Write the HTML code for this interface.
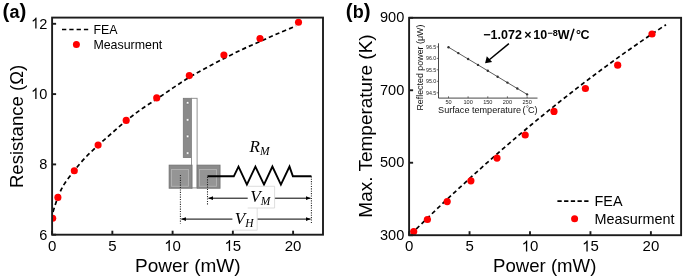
<!DOCTYPE html>
<html><head><meta charset="utf-8"><style>
html,body{margin:0;padding:0;background:#fff;width:685px;height:280px;overflow:hidden}
svg{display:block;will-change:transform}
</style></head><body>
<svg width="685" height="280" viewBox="0 0 685 280">
<defs>
<clipPath id="ca"><rect x="52.1" y="17.6" width="270.9" height="217.1"/></clipPath>
<clipPath id="cb"><rect x="409.1" y="17.8" width="272" height="217.4"/></clipPath>
<marker id="ah" viewBox="0 0 10 10" refX="9.5" refY="5" markerWidth="4.8" markerHeight="4.8" orient="auto-start-reverse"><path d="M0,1 L10,5 L0,9 z" fill="#000"/></marker>
<marker id="ah2" viewBox="0 0 10 10" refX="9" refY="5" markerWidth="7" markerHeight="7" orient="auto"><path d="M0,0 L10,5 L0,10 z" fill="#000"/></marker>
</defs>
<style>.tk{font-family:"Liberation Sans",sans-serif;font-size:15px;fill:#000}.lab{font-family:"Liberation Sans",sans-serif;font-size:19px;fill:#000}.lg{font-family:"Liberation Sans",sans-serif;font-size:12px;fill:#000}.pl{font-family:"Liberation Sans",sans-serif;font-size:18px;font-weight:bold;fill:#000}.it{font-family:"Liberation Serif",serif;font-style:italic;fill:#000}</style>
<path d="M53,212 C53.42,210.67 54.67,206.50 55.5,204 C56.33,201.50 57.08,199.33 58,197 C58.92,194.67 59.83,192.33 61,190 C62.17,187.67 62.83,186.17 65,183 C67.17,179.83 70.67,175.17 74,171 C77.33,166.83 81.00,162.25 85,158 C89.00,153.75 93.50,149.67 98,145.5 C102.50,141.33 107.33,137.08 112,133 C116.67,128.92 121.17,124.93 126,121 C130.83,117.07 135.83,113.08 141,109.4 C146.17,105.72 151.67,102.48 157,98.9 C162.33,95.32 167.67,91.47 173,87.9 C178.33,84.33 183.50,80.82 189,77.5 C194.50,74.18 200.17,71.17 206,68 C211.83,64.83 218.00,61.58 224,58.5 C230.00,55.42 236.00,52.33 242,49.5 C248.00,46.67 254.00,44.17 260,41.5 C266.00,38.83 272.00,36.08 278,33.5 C284.00,30.92 293.00,27.25 296,26" fill="none" stroke="#000" stroke-width="1.7" stroke-dasharray="4.3 3"/>
<g clip-path="url(#ca)">
<circle cx="52.7" cy="218.29999999999998" r="3.55" fill="#f00"/>
<circle cx="57.9" cy="197.39999999999998" r="3.55" fill="#f00"/>
<circle cx="74.3" cy="170.7" r="3.55" fill="#f00"/>
<circle cx="98.1" cy="145.1" r="3.55" fill="#f00"/>
<circle cx="126.2" cy="120.4" r="3.55" fill="#f00"/>
<circle cx="156.7" cy="97.9" r="3.55" fill="#f00"/>
<circle cx="189.3" cy="75.60000000000001" r="3.55" fill="#f00"/>
<circle cx="223.9" cy="55.0" r="3.55" fill="#f00"/>
<circle cx="260" cy="38.5" r="3.55" fill="#f00"/>
<circle cx="298.5" cy="22.2" r="3.55" fill="#f00"/>
</g>
<g>
<rect x="183.3" y="98.3" width="8.2" height="59.2" fill="#8a8a8a" stroke="#777" stroke-width="0.8"/>
<rect x="191.5" y="98.3" width="5.6" height="89.6" fill="#fff" stroke="#888" stroke-width="0.9"/>
<rect x="186.3" y="101.4" width="2.6" height="2.6" rx="0.6" fill="#fff" stroke="#666" stroke-width="0.6"/>
<rect x="186.3" y="118.6" width="2.6" height="2.6" rx="0.6" fill="#fff" stroke="#666" stroke-width="0.6"/>
<rect x="186.3" y="135.1" width="2.6" height="2.6" rx="0.6" fill="#fff" stroke="#666" stroke-width="0.6"/>
<rect x="186.3" y="151.8" width="2.6" height="2.6" rx="0.6" fill="#fff" stroke="#666" stroke-width="0.6"/>
<rect x="169.2" y="165.2" width="22.8" height="23" fill="#8b8b8b" stroke="#767676" stroke-width="1"/>
<rect x="171.5" y="169.5" width="17" height="16.8" fill="#959595" stroke="#b2b2b2" stroke-width="0.9"/>
<rect x="197.2" y="165.2" width="22.8" height="23" fill="#8b8b8b" stroke="#767676" stroke-width="1"/>
<rect x="199.5" y="169.5" width="17" height="16.8" fill="#959595" stroke="#b2b2b2" stroke-width="0.9"/>
</g>
<polyline points="207.5,176.3 233.8,176.3 238.5,166.6 246.9,184.6 255.4,166.6 264.0,184.6 272.4,166.6 280.9,184.6 289.5,166.6 292.9,176.3 311.4,176.3" fill="none" stroke="#000" stroke-width="1.9" stroke-linejoin="miter"/>
<line x1="180.4" y1="175" x2="180.4" y2="223.4" stroke="#222" stroke-width="1.05" stroke-dasharray="1.1 1.3"/>
<line x1="207.5" y1="176.9" x2="207.5" y2="205.5" stroke="#222" stroke-width="1.05" stroke-dasharray="1.1 1.3"/>
<line x1="311.4" y1="176.3" x2="311.4" y2="223.3" stroke="#222" stroke-width="1.05" stroke-dasharray="1.1 1.3"/>
<line x1="208.5" y1="198.2" x2="310.5" y2="198.2" stroke="#000" stroke-width="1" marker-start="url(#ah)" marker-end="url(#ah)"/>
<line x1="181.4" y1="219.1" x2="310.5" y2="219.1" stroke="#000" stroke-width="1" marker-start="url(#ah)" marker-end="url(#ah)"/>
<rect x="247.7" y="186.3" width="27" height="21.7" fill="#fff"/>
<rect x="232.4" y="208.0" width="24.8" height="22" fill="#fff"/>
<polyline points="247.7,186.3 274.6,186.3 274.6,208 247.7,208" fill="none" stroke="#d4d4d4" stroke-width="0.8"/>
<polyline points="257.2,208 257.2,230.2 232.4,230.2" fill="none" stroke="#d8d8d8" stroke-width="0.8"/>
<text x="249.5" y="151.8" class="it" style="font-size:17px">R<tspan style="font-size:11.5px" dy="3.3">M</tspan></text>
<text x="250.3" y="202.0" class="it" style="font-size:17px">V<tspan style="font-size:11.5px" dy="3">M</tspan></text>
<text x="234.8" y="224.0" class="it" style="font-size:17px">V<tspan style="font-size:11.5px" dy="3">H</tspan></text>
<rect x="52.1" y="17.6" width="270.9" height="217.1" fill="none" stroke="#1c1c1c" stroke-width="1.9"/>
<line x1="52.1" y1="234.7" x2="52.1" y2="230.7" stroke="#1c1c1c" stroke-width="1.9"/>
<text x="47.93" y="250.90" class="tk">0</text>
<line x1="112.35" y1="234.7" x2="112.35" y2="230.7" stroke="#1c1c1c" stroke-width="1.9"/>
<text x="108.18" y="250.90" class="tk">5</text>
<line x1="172.6" y1="234.7" x2="172.6" y2="230.7" stroke="#1c1c1c" stroke-width="1.9"/>
<path d="M763,0 L583,0 L583,1147 C540,1106 483,1064 413,1023 C342,982 279,951 223,930 L223,1104 C324,1151 412,1209 487,1276 C562,1343 615,1409 646,1472 L763,1472 Z" transform="translate(164.26,250.90) scale(0.00732,-0.00732)" fill="#000"/><text x="172.60" y="250.90" class="tk">0</text>
<line x1="232.85" y1="234.7" x2="232.85" y2="230.7" stroke="#1c1c1c" stroke-width="1.9"/>
<path d="M763,0 L583,0 L583,1147 C540,1106 483,1064 413,1023 C342,982 279,951 223,930 L223,1104 C324,1151 412,1209 487,1276 C562,1343 615,1409 646,1472 L763,1472 Z" transform="translate(224.51,250.90) scale(0.00732,-0.00732)" fill="#000"/><text x="232.85" y="250.90" class="tk">5</text>
<line x1="293.1" y1="234.7" x2="293.1" y2="230.7" stroke="#1c1c1c" stroke-width="1.9"/>
<text x="284.76" y="250.90" class="tk">2</text><text x="293.10" y="250.90" class="tk">0</text>
<line x1="52.1" y1="234.7" x2="56.1" y2="234.7" stroke="#1c1c1c" stroke-width="1.9"/>
<g transform="translate(47.3,239.50) scale(0.97,1.03)"><text x="-8.34" y="0.00" class="tk">6</text></g>
<line x1="52.1" y1="164.39999999999998" x2="56.1" y2="164.39999999999998" stroke="#1c1c1c" stroke-width="1.9"/>
<g transform="translate(47.3,169.20) scale(0.97,1.03)"><text x="-8.34" y="0.00" class="tk">8</text></g>
<line x1="52.1" y1="94.1" x2="56.1" y2="94.1" stroke="#1c1c1c" stroke-width="1.9"/>
<g transform="translate(47.3,98.90) scale(0.97,1.03)"><path d="M763,0 L583,0 L583,1147 C540,1106 483,1064 413,1023 C342,982 279,951 223,930 L223,1104 C324,1151 412,1209 487,1276 C562,1343 615,1409 646,1472 L763,1472 Z" transform="translate(-16.68,0.00) scale(0.00732,-0.00732)" fill="#000"/><text x="-8.34" y="0.00" class="tk">0</text></g>
<line x1="52.1" y1="23.80000000000001" x2="56.1" y2="23.80000000000001" stroke="#1c1c1c" stroke-width="1.9"/>
<g transform="translate(47.3,28.60) scale(0.97,1.03)"><path d="M763,0 L583,0 L583,1147 C540,1106 483,1064 413,1023 C342,982 279,951 223,930 L223,1104 C324,1151 412,1209 487,1276 C562,1343 615,1409 646,1472 L763,1472 Z" transform="translate(-16.68,0.00) scale(0.00732,-0.00732)" fill="#000"/><text x="-8.34" y="0.00" class="tk">2</text></g>
<line x1="62" y1="29.5" x2="89" y2="29.5" stroke="#000" stroke-width="1.6" stroke-dasharray="4.3 3"/>
<text x="93.4" y="34" class="lg" style="font-size:12.4px">FEA</text>
<circle cx="76.4" cy="44.5" r="3.5" fill="#f00"/>
<text x="93.4" y="48.7" class="lg" style="font-size:12.4px">Measurment</text>
<text x="2.6" y="17.6" class="pl"><tspan font-size="20.5" dy="0.6">(</tspan><tspan dy="-0.6">a</tspan><tspan font-size="20.5" dy="0.6">)</tspan></text>
<text transform="translate(22.6,126.4) rotate(-90)" text-anchor="middle" class="lab" style="font-size:18.6px">Resistance (Ω)</text>
<text x="187.8" y="272.2" text-anchor="middle" class="lab">Power (mW)</text>
<path d="M411,234.14 C413.50,231.69 421.00,224.31 426,219.47 C431.00,214.63 436.00,209.84 441,205.1 C446.00,200.36 451.00,195.67 456,191.02 C461.00,186.38 466.00,181.78 471,177.23 C476.00,172.68 481.00,168.18 486,163.73 C491.00,159.28 496.00,154.88 501,150.53 C506.00,146.18 511.00,141.87 516,137.62 C521.00,133.37 526.00,129.17 531,125.01 C536.00,120.86 541.00,116.75 546,112.69 C551.00,108.63 556.00,104.62 561,100.66 C566.00,96.70 571.00,92.79 576,88.93 C581.00,85.07 586.00,81.25 591,77.49 C596.00,73.72 601.00,70.01 606,66.34 C611.00,62.67 616.00,59.06 621,55.49 C626.00,51.92 631.00,48.40 636,44.93 C641.00,41.46 646.00,38.03 651,34.66 C656.00,31.29 663.50,26.35 666,24.69" fill="none" stroke="#000" stroke-width="1.7" stroke-dasharray="4.3 3"/>
<g clip-path="url(#cb)">
<circle cx="413.7" cy="231.60000000000002" r="3.6" fill="#f00"/>
<circle cx="427.4" cy="219.5" r="3.6" fill="#f00"/>
<circle cx="447.2" cy="201.60000000000002" r="3.6" fill="#f00"/>
<circle cx="470.9" cy="180.8" r="3.6" fill="#f00"/>
<circle cx="497" cy="158.10000000000002" r="3.6" fill="#f00"/>
<circle cx="525.2" cy="135.0" r="3.6" fill="#f00"/>
<circle cx="554" cy="111.39999999999999" r="3.6" fill="#f00"/>
<circle cx="585.4" cy="88.5" r="3.6" fill="#f00"/>
<circle cx="617.7" cy="65.2" r="3.6" fill="#f00"/>
<circle cx="652" cy="34.0" r="3.6" fill="#f00"/>
</g>
<rect x="409.1" y="17.8" width="272.0" height="217.39999999999998" fill="none" stroke="#1c1c1c" stroke-width="1.9"/>
<line x1="409.1" y1="235.2" x2="409.1" y2="231.2" stroke="#1c1c1c" stroke-width="1.9"/>
<text x="404.93" y="251.40" class="tk">0</text>
<line x1="469.55" y1="235.2" x2="469.55" y2="231.2" stroke="#1c1c1c" stroke-width="1.9"/>
<text x="465.38" y="251.40" class="tk">5</text>
<line x1="530.0" y1="235.2" x2="530.0" y2="231.2" stroke="#1c1c1c" stroke-width="1.9"/>
<path d="M763,0 L583,0 L583,1147 C540,1106 483,1064 413,1023 C342,982 279,951 223,930 L223,1104 C324,1151 412,1209 487,1276 C562,1343 615,1409 646,1472 L763,1472 Z" transform="translate(521.66,251.40) scale(0.00732,-0.00732)" fill="#000"/><text x="530.00" y="251.40" class="tk">0</text>
<line x1="590.45" y1="235.2" x2="590.45" y2="231.2" stroke="#1c1c1c" stroke-width="1.9"/>
<path d="M763,0 L583,0 L583,1147 C540,1106 483,1064 413,1023 C342,982 279,951 223,930 L223,1104 C324,1151 412,1209 487,1276 C562,1343 615,1409 646,1472 L763,1472 Z" transform="translate(582.11,251.40) scale(0.00732,-0.00732)" fill="#000"/><text x="590.45" y="251.40" class="tk">5</text>
<line x1="650.9000000000001" y1="235.2" x2="650.9000000000001" y2="231.2" stroke="#1c1c1c" stroke-width="1.9"/>
<text x="642.56" y="251.40" class="tk">2</text><text x="650.90" y="251.40" class="tk">0</text>
<line x1="409.1" y1="235.2" x2="413.1" y2="235.2" stroke="#1c1c1c" stroke-width="1.9"/>
<g transform="translate(404.3,239.60) scale(0.97,1.03)"><text x="-25.03" y="0.00" class="tk">3</text><text x="-16.68" y="0.00" class="tk">0</text><text x="-8.34" y="0.00" class="tk">0</text></g>
<line x1="409.1" y1="162.73333333333332" x2="413.1" y2="162.73333333333332" stroke="#1c1c1c" stroke-width="1.9"/>
<g transform="translate(404.3,167.13) scale(0.97,1.03)"><text x="-25.03" y="0.00" class="tk">5</text><text x="-16.68" y="0.00" class="tk">0</text><text x="-8.34" y="0.00" class="tk">0</text></g>
<line x1="409.1" y1="90.26666666666665" x2="413.1" y2="90.26666666666665" stroke="#1c1c1c" stroke-width="1.9"/>
<g transform="translate(404.3,94.67) scale(0.97,1.03)"><text x="-25.03" y="0.00" class="tk">7</text><text x="-16.68" y="0.00" class="tk">0</text><text x="-8.34" y="0.00" class="tk">0</text></g>
<line x1="409.1" y1="17.799999999999983" x2="413.1" y2="17.799999999999983" stroke="#1c1c1c" stroke-width="1.9"/>
<g transform="translate(404.3,22.20) scale(0.97,1.03)"><text x="-25.03" y="0.00" class="tk">9</text><text x="-16.68" y="0.00" class="tk">0</text><text x="-8.34" y="0.00" class="tk">0</text></g>
<line x1="557.4" y1="201.1" x2="589" y2="201.1" stroke="#000" stroke-width="1.6" stroke-dasharray="4.3 2.4"/>
<text x="594.5" y="206.4" class="lg" style="font-size:14.4px">FEA</text>
<circle cx="574.6" cy="218.7" r="3.5" fill="#f00"/>
<text x="594.5" y="223.7" class="lg" style="font-size:14.4px">Measurment</text>
<text x="345.8" y="17.6" class="pl"><tspan font-size="20.5" dy="0.6">(</tspan><tspan dy="-0.6">b</tspan><tspan font-size="20.5" dy="0.6">)</tspan></text>
<text transform="translate(372,126) rotate(-90)" text-anchor="middle" class="lab" style="font-size:19px">Max. Temperature (K)</text>
<text x="544.7" y="272.4" text-anchor="middle" class="lab" style="font-size:18.6px">Power (mW)</text>
<polyline points="438.5,43.3 438.5,98.1 537.5,98.1" fill="none" stroke="#333" stroke-width="0.9"/>
<line x1="448.5" y1="98.1" x2="448.5" y2="96.3" stroke="#333" stroke-width="0.7"/>
<text x="448.5" y="104.2" text-anchor="middle" font-family="Liberation Sans, sans-serif" font-size="5.6" fill="#222">50</text>
<line x1="468.1" y1="98.1" x2="468.1" y2="96.3" stroke="#333" stroke-width="0.7"/>
<text x="468.1" y="104.2" text-anchor="middle" font-family="Liberation Sans, sans-serif" font-size="5.6" fill="#222">100</text>
<line x1="487.8" y1="98.1" x2="487.8" y2="96.3" stroke="#333" stroke-width="0.7"/>
<text x="487.8" y="104.2" text-anchor="middle" font-family="Liberation Sans, sans-serif" font-size="5.6" fill="#222">150</text>
<line x1="507.4" y1="98.1" x2="507.4" y2="96.3" stroke="#333" stroke-width="0.7"/>
<text x="507.4" y="104.2" text-anchor="middle" font-family="Liberation Sans, sans-serif" font-size="5.6" fill="#222">200</text>
<line x1="527.1" y1="98.1" x2="527.1" y2="96.3" stroke="#333" stroke-width="0.7"/>
<text x="527.1" y="104.2" text-anchor="middle" font-family="Liberation Sans, sans-serif" font-size="5.6" fill="#222">250</text>
<line x1="438.5" y1="92.8" x2="436.7" y2="92.8" stroke="#333" stroke-width="0.7"/>
<text x="436.3" y="94.8" text-anchor="end" font-family="Liberation Sans, sans-serif" font-size="5.3" fill="#222">94.5</text>
<line x1="438.5" y1="81.3" x2="436.7" y2="81.3" stroke="#333" stroke-width="0.7"/>
<text x="436.3" y="83.3" text-anchor="end" font-family="Liberation Sans, sans-serif" font-size="5.3" fill="#222">95.0</text>
<line x1="438.5" y1="69.8" x2="436.7" y2="69.8" stroke="#333" stroke-width="0.7"/>
<text x="436.3" y="71.8" text-anchor="end" font-family="Liberation Sans, sans-serif" font-size="5.3" fill="#222">95.5</text>
<line x1="438.5" y1="58.4" x2="436.7" y2="58.4" stroke="#333" stroke-width="0.7"/>
<text x="436.3" y="60.4" text-anchor="end" font-family="Liberation Sans, sans-serif" font-size="5.3" fill="#222">96.0</text>
<line x1="438.5" y1="46.9" x2="436.7" y2="46.9" stroke="#333" stroke-width="0.7"/>
<text x="436.3" y="48.9" text-anchor="end" font-family="Liberation Sans, sans-serif" font-size="5.3" fill="#222">96.5</text>
<polyline points="448.5,47.2 458.3,53.1 468.1,59.0 478.0,64.9 487.8,70.8 497.6,76.7 507.4,82.6 517.3,88.5 527.1,94.4" fill="none" stroke="#333" stroke-width="0.8"/>
<circle cx="448.5" cy="47.2" r="1.2" fill="#333"/>
<circle cx="458.3" cy="53.1" r="1.2" fill="#333"/>
<circle cx="468.1" cy="59.0" r="1.2" fill="#333"/>
<circle cx="478.0" cy="64.9" r="1.2" fill="#333"/>
<circle cx="487.8" cy="70.8" r="1.2" fill="#333"/>
<circle cx="497.6" cy="76.7" r="1.2" fill="#333"/>
<circle cx="507.4" cy="82.6" r="1.2" fill="#333"/>
<circle cx="517.3" cy="88.5" r="1.2" fill="#333"/>
<circle cx="527.1" cy="94.4" r="1.2" fill="#333"/>
<text transform="translate(422.6,67.6) rotate(-90)" text-anchor="middle" font-family="Liberation Sans, sans-serif" font-size="8.9" fill="#111">Reflected power (μW)</text>
<text y="113.2" font-family="Liberation Sans, sans-serif" font-size="9.1" fill="#111"><tspan x="438.1">Surface temperature</tspan><tspan x="522.4">(</tspan><tspan x="526.0" font-size="7" dy="-2.2">°</tspan><tspan x="527.9" dy="2.2">C</tspan><tspan x="534.6">)</tspan></text>
<text y="38.5" font-family="Liberation Sans, sans-serif" font-weight="bold" font-size="12.5" fill="#000"><tspan x="483.3">−1.072</tspan><tspan x="524.2">×</tspan><tspan x="533.2">10</tspan><tspan x="547.6" font-size="9" dy="-2.2">−8</tspan><tspan x="557.8" dy="2.2">W</tspan><tspan x="576.0">°</tspan><tspan x="580.4">C</tspan></text>
<line x1="570.3" y1="40.6" x2="574.0" y2="28.7" stroke="#000" stroke-width="1.5"/>
<line x1="508.9" y1="43.6" x2="489" y2="60.0" stroke="#000" stroke-width="1.5"/>
<path d="M485.1,63.3 L486.8,56.3 L492.1,61.9 Z" fill="#000"/>
</svg>
</body></html>
